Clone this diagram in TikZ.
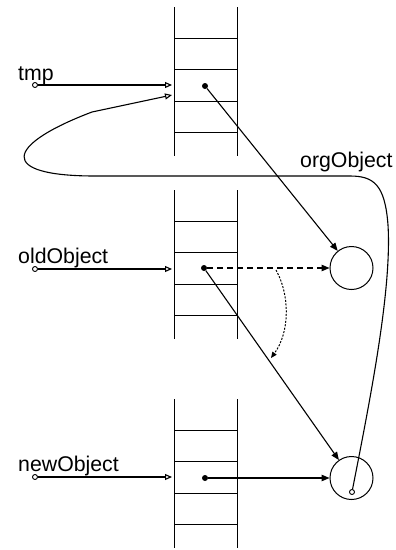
\documentclass[tikz,border=0pt]{standalone}
\usepackage{fontspec}
\setmainfont{Liberation Sans}
\usetikzlibrary{arrows.meta}
\tikzset{
  lbl/.style={anchor=base west,inner sep=0pt,font=\fontsize{21.3}{25}\selectfont},
  stackline/.style={line width=1pt},
  ptr/.style={line width=1.1pt,-{Triangle[open,length=7pt,width=6pt]}},
  solidptr/.style={line width=1.1pt,-{Triangle[length=8pt,width=6.5pt]}},
  dashptr/.style={line width=1.1pt,dash pattern=on 6pt off 4pt,-{Triangle[length=8pt,width=6.5pt]}},
  dotptr/.style={line width=1pt,dash pattern=on 2pt off 1.5pt,-{Triangle[length=6pt,width=5pt]}},
  origin/.style={circle,draw,line width=0.9pt,fill=white,inner sep=0pt,minimum size=5pt},
  dot/.style={circle,fill=black,inner sep=0pt,minimum size=6pt},
  obj/.style={circle,draw,line width=1pt,inner sep=0pt,minimum size=43pt},
}
\newcommand{\mystack}[1]{%
  \draw[stackline] (174,#1) -- (174,#1+149) (237,#1) -- (237,#1+149);
  \foreach \k in {1,2,3,4}{\draw[stackline] (174,#1+31.4*\k) -- (237,#1+31.4*\k);}
}
\begin{document}
\begin{tikzpicture}[x=1pt,y=-1pt]
\useasboundingbox (0,0) rectangle (396,550);
% stacks
\mystack{7}
\mystack{190}
\mystack{399}
% labels
\node[lbl] (ltmp) at (18,80) {tmp};
\node[lbl] (lold) at (18,263) {oldObject};
\node[lbl] (lnew) at (18,471) {newObject};
\node[lbl] (lorg) at (300,167) {orgObject};
% objects
\node[obj] (o1) at (351.5,268) {};
\node[obj] (o2) at (351.5,478) {};
% dots in stacks
\node[dot] (d1) at (205,86) {};
\node[dot] (d2) at (204,268) {};
\node[dot] (d3) at (205,478) {};
% origins
\node[origin] (stmp) at (35,85) {};
\node[origin] (sold) at (35,269) {};
\node[origin] (snew) at (35,477) {};
\node[origin] (sin) at (352,492) {};
% targets
\coordinate (ttmp) at (172,85);
\coordinate (ttmp2) at (172,95);
\coordinate (told) at (172,269);
\coordinate (tnew) at (172,477);
% pointers
\draw[ptr] (stmp) -- (ttmp);
\draw[ptr] (sold) -- (told);
\draw[ptr] (snew) -- (tnew);
\draw[solidptr] (d1) -- (o1);
\draw[solidptr] (d2) -- (o2);
\draw[solidptr] (d3) -- (o2);
\draw[dashptr] (d2) -- (o1);
% dotted curved arrow
\coordinate (cs) at (276,270);
\coordinate (ce) at (271,358);
\draw[dotptr] (cs) .. controls (290,295) and (290,332) .. (ce);
% big curve orgObject
\draw[ptr] (sin) .. controls (370,400) and (392,290) .. (388,225)
  .. controls (385,185) and (374,176) .. (350,176) -- (95,176)
  .. controls (-3,176) and (5,145) .. (92,112) -- (ttmp2);
\end{tikzpicture}
\end{document}
